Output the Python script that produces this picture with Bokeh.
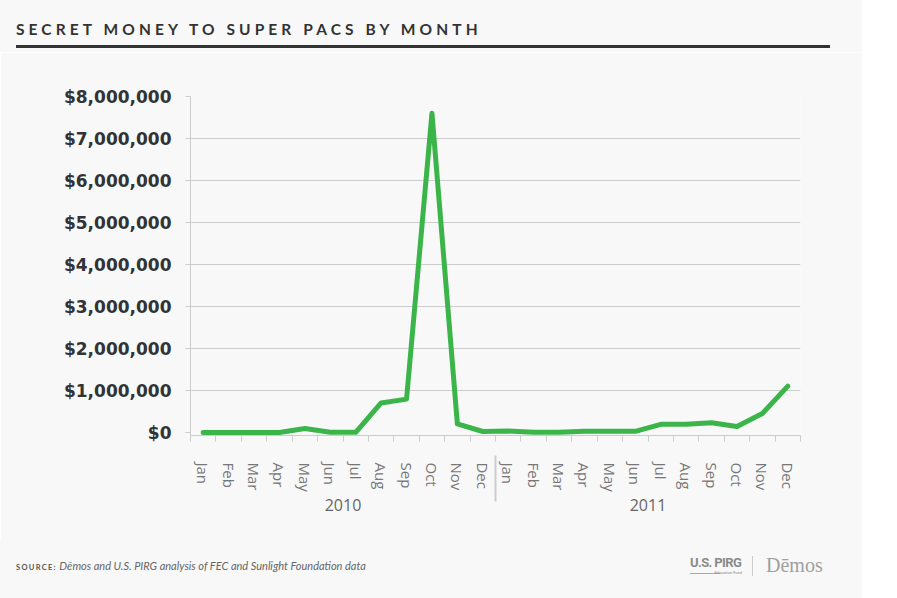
from bokeh.plotting import figure
from bokeh.layouts import column
from bokeh.models import (FactorRange, Range1d, LinearAxis, CategoricalAxis, FixedTicker, Div,
                          NumeralTickFormatter, ColumnDataSource, CustomLabelingPolicy)
from bokeh.embed import file_html
from bokeh.resources import INLINE

# ---------------- data ----------------
years = ["2010", "2011"]
months = ["Jan", "Feb", "Mar", "Apr", "May", "Jun", "Jul", "Aug", "Sep", "Oct", "Nov", "Dec"]
values_2010 = [5000, 5000, 5000, 5000, 100000, 10000, 10000, 710000, 800000, 7600000, 210000, 30000]
values_2011 = [40000, 10000, 10000, 35000, 35000, 35000, 200000, 200000, 240000, 150000, 460000, 1110000]
y_ticks = [0, 1000000, 2000000, 3000000, 4000000, 5000000, 6000000, 7000000, 8000000]

title_text = "SECRET MONEY TO SUPER PACS BY MONTH"
source_label = "SOURCE:"
source_text = "Dēmos and U.S. PIRG analysis of FEC and Sunlight Foundation data"

factors = [(yr, m) for yr in years for m in months]
values = values_2010 + values_2011
src = ColumnDataSource(dict(x=factors, y=values))

BG = "#f8f8f8"
GRID = "#cccccc"
GREEN = "#3bb54a"
W = 862
HEAD_H, MAIN_H, FOOT_H = 52, 488, 58

# ---------------- header ----------------
head_html = (
    '<div style="position:relative;width:%dpx;height:%dpx;">'
    '<div style="position:absolute;left:16px;top:20px;font-family:Lato;font-weight:700;'
    'font-size:15.5px;line-height:18px;letter-spacing:4.1px;color:#333;white-space:nowrap;">%s</div>'
    '<div style="position:absolute;left:16px;top:45px;width:814px;height:3px;background:#333;"></div>'
    '</div>' % (W, HEAD_H, title_text)
)
head = Div(text=head_html, width=W, height=HEAD_H, margin=0,
           styles={"background-color": BG})

# ---------------- main chart ----------------
p = figure(width=W, height=MAIN_H,
           x_range=FactorRange(*factors, group_padding=0, range_padding=0),
           y_range=Range1d(-65000, 8000000),
           x_axis_location=None,
           output_backend="svg", toolbar_location=None,
           background_fill_color=BG, border_fill_color=BG,
           min_border_left=190, min_border_right=62,
           min_border_top=44, min_border_bottom=105)
p.outline_line_color = None
p.xgrid.visible = False

p.ygrid.ticker = FixedTicker(ticks=y_ticks[1:])
p.ygrid.grid_line_color = GRID

yax = p.yaxis[0]
yax.ticker = FixedTicker(ticks=y_ticks)
yax.formatter = NumeralTickFormatter(format="$0,0")
yax.axis_line_color = GRID
yax.major_tick_line_color = GRID
yax.major_tick_in = 0
yax.major_tick_out = 5
yax.minor_tick_line_color = None
yax.major_label_standoff = 14
yax.major_label_text_font = "DejaVu Sans"
yax.major_label_text_font_style = "bold"
yax.major_label_text_font_size = "17px"
yax.major_label_text_color = "#333333"

# tick marks at month boundaries (synthetic categorical coordinates), no labels
tick_axis = LinearAxis(ticker=FixedTicker(ticks=list(range(len(factors) + 1))),
                       axis_line_color=GRID, major_tick_line_color=GRID,
                       major_tick_in=0, major_tick_out=6,
                       minor_tick_line_color=None,
                       major_label_policy=CustomLabelingPolicy(code="return new Set()"),
                       major_label_standoff=0)
p.add_layout(tick_axis, "below")

cax = CategoricalAxis(axis_line_color=None, major_tick_line_color=None,
                      major_label_orientation="vertical",
                      major_label_standoff=4,
                      major_label_text_font="Open Sans",
                      major_label_text_font_size="15px",
                      major_label_text_color="#777777",
                      group_text_font="Open Sans",
                      group_text_font_style="normal",
                      group_text_font_size="16px",
                      group_text_color="#666666",
                      separator_line_color=GRID)
p.add_layout(cax, "below")

p.line("x", "y", source=src, line_color=GREEN, line_width=5, line_join="round", line_cap="round")

# ---------------- footer ----------------
foot_html = (
    '<div style="position:relative;width:%dpx;height:%dpx;">'
    '<div style="position:absolute;left:16px;top:19px;line-height:14px;white-space:nowrap;color:#666;">'
    '<span style="font-family:Lato;font-weight:700;font-size:7.5px;letter-spacing:1.3px;color:#555;">%s</span>'
    '<span style="font-family:Lato;font-style:italic;font-size:11px;"> %s</span></div>'
    '<div style="position:absolute;left:690px;top:15px;font-family:Roboto;font-weight:700;font-size:13px;'
    'line-height:16px;letter-spacing:-0.6px;color:#8a8a8a;white-space:nowrap;">U.S. PIRG</div>'
    '<div style="position:absolute;left:690px;top:33px;width:30px;height:1px;background:#aaa;"></div>'
    '<div style="position:absolute;left:712px;top:30px;width:30px;text-align:right;font-family:Roboto;'
    'font-size:4px;line-height:5px;color:#8a8a8a;white-space:nowrap;">Education Fund</div>'
    '<div style="position:absolute;left:752px;top:16px;width:1px;height:20px;background:#ccc;"></div>'
    '<div style="position:absolute;left:766px;top:13px;font-family:\'Liberation Serif\';font-size:20px;'
    'line-height:24px;color:#a0a0a0;white-space:nowrap;">Dēmos</div>'
    '</div>' % (W, FOOT_H, source_label, source_text)
)
foot = Div(text=foot_html, width=W, height=FOOT_H, margin=0,
           styles={"background-color": BG})

layout = column(head, p, foot, spacing=0)
open("out.html", "w").write(file_html(layout, INLINE))
